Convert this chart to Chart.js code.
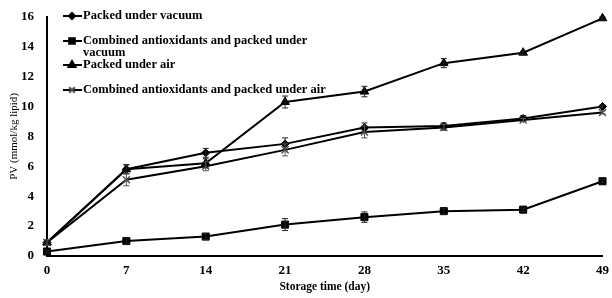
<!DOCTYPE html>
<html>
<head>
<meta charset="utf-8">
<script src="https://cdn.jsdelivr.net/npm/chart.js@4.4.0/dist/chart.umd.min.js"></script>
<style>
  html, body { margin: 0; padding: 0; background: #fff; }
  #wrap { width: 612px; height: 298px; position: relative; }
</style>
</head>
<body>
<div id="wrap"><canvas id="grafica" width="612" height="298"></canvas></div>
<script>
const dias = [0, 7, 14, 21, 28, 35, 42, 49];
const etiquetas = [
  'Packed under vacuum',
  ['Combined antioxidants and packed under', 'vacuum'],
  'Packed under air',
  'Combined antioxidants and packed under air'
];
const vacio = [0.9, 5.8, 6.9, 7.5, 8.6, 8.7, 9.2, 10.0];
const vacioAntiox = [0.3, 1.0, 1.3, 2.1, 2.6, 3.0, 3.1, 5.0];
const aire = [0.9, 5.8, 6.2, 10.3, 11.0, 12.9, 13.6, 15.9];
const aireAntiox = [0.9, 5.1, 6.0, 7.1, 8.3, 8.6, 9.1, 9.6];

const errVacio = [0.1, 0.3, 0.3, 0.4, 0.3, 0.2, 0.2, 0.1];
const errVacioAntiox = [0.1, 0.2, 0.2, 0.4, 0.35, 0.2, 0.1, 0.1];
const errAire = [0.1, 0.3, 0.3, 0.4, 0.35, 0.3, 0.1, 0.1];
const errAireAntiox = [0.2, 0.4, 0.3, 0.4, 0.4, 0.2, 0.1, 0.1];

const fuente = '"Liberation Serif", "Times New Roman", serif';

function serie(label, valores, errores, estilo, radio, color) {
  return {
    label: Array.isArray(label) ? label.join(' ') : label,
    lineas: Array.isArray(label) ? label : [label],
    data: dias.map((d, i) => ({ x: d, y: valores[i] })),
    errores: errores,
    borderColor: '#000',
    backgroundColor: color,
    pointBorderColor: color,
    pointBackgroundColor: color,
    borderWidth: 2,
    pointStyle: estilo,
    pointRadius: radio,
    pointBorderWidth: estilo === 'crossRot' ? 1.5 : 1,
    showLine: true,
    fill: false,
    clip: false,
    tension: 0
  };
}

const datasets = [
  serie(etiquetas[0], vacio, errVacio, 'rectRot', 4, '#000'),
  serie(etiquetas[1], vacioAntiox, errVacioAntiox, 'rect', 5, '#000'),
  serie(etiquetas[2], aire, errAire, 'triangle', 5, '#000'),
  serie(etiquetas[3], aireAntiox, errAireAntiox, 'crossRot', 5, '#555')
];

// barras de error
const barrasError = {
  id: 'barrasError',
  afterDatasetsDraw(chart) {
    const ctx = chart.ctx;
    const xs = chart.scales.x, ys = chart.scales.y;
    ctx.save();
    chart.data.datasets.forEach(ds => {
      ctx.strokeStyle = ds.pointBorderColor === '#000' ? '#222' : '#555';
      ctx.lineWidth = 1;
      ds.data.forEach((p, i) => {
        const e = ds.errores[i];
        const px = xs.getPixelForValue(p.x);
        const y1 = ys.getPixelForValue(p.y + e);
        const y2 = ys.getPixelForValue(p.y - e);
        ctx.beginPath();
        ctx.moveTo(px, y1); ctx.lineTo(px, y2);
        ctx.moveTo(px - 3, y1); ctx.lineTo(px + 3, y1);
        ctx.moveTo(px - 3, y2); ctx.lineTo(px + 3, y2);
        ctx.stroke();
      });
    });
    ctx.restore();
  }
};

// leyenda dentro del area
const leyenda = {
  id: 'leyenda',
  afterDraw(chart) {
    const ctx = chart.ctx;
    const filas = [16, 41, 65, 90];
    ctx.save();
    ctx.font = 'bold 12.5px ' + fuente;
    ctx.textBaseline = 'middle';
    chart.data.datasets.forEach((ds, i) => {
      const y = filas[i];
      ctx.strokeStyle = '#000';
      ctx.lineWidth = 2;
      ctx.beginPath();
      ctx.moveTo(63, y); ctx.lineTo(82, y);
      ctx.stroke();
      ctx.strokeStyle = ds.pointBorderColor;
      ctx.fillStyle = ds.pointBackgroundColor;
      Chart.helpers.drawPoint(ctx, {
        pointStyle: ds.pointStyle,
        radius: ds.pointRadius - 1,
        borderWidth: ds.pointBorderWidth
      }, 72, y);
      ctx.fillStyle = '#000';
      ds.lineas.forEach((t, j) => ctx.fillText(t, 83, y + j * 12));
    });
    ctx.restore();
  }
};

new Chart(document.getElementById('grafica').getContext('2d'), {
  type: 'scatter',
  data: { datasets },
  plugins: [barrasError, leyenda],
  options: {
    responsive: false,
    animation: false,
    layout: { padding: { top: 16, right: 6, left: 8, bottom: 0 } },
    plugins: { legend: { display: false }, tooltip: { enabled: false } },
    scales: {
      x: {
        type: 'linear', min: 0, max: 49,
        afterFit(s) { s.height = 42; },
        afterBuildTicks(s) { s.ticks = dias.map(v => ({ value: v })); },
        grid: { display: false, drawTicks: true, tickLength: 4, tickColor: '#000' },
        border: { color: '#000', width: 2 },
        ticks: { color: '#000', font: { family: fuente, size: 13, weight: 'bold' }, padding: 3 },
        title: { display: true, text: 'Storage time (day)', color: '#000',
          font: { family: fuente, size: 11.5, weight: 'bold' }, padding: { top: 8 } }
      },
      y: {
        min: 0, max: 16,
        afterFit(s) { s.width = 39; },
        ticks: { stepSize: 2, color: '#000', font: { family: fuente, size: 13, weight: 'bold' }, padding: 9 },
        grid: { display: false, drawTicks: true, tickLength: 4, tickColor: '#000' },
        border: { color: '#000', width: 2 },
        title: { display: true, text: 'PV (mmol/kg lipid)', color: '#000',
          font: { family: fuente, size: 11 }, padding: 0 }
      }
    }
  }
});
</script>
</body>
</html>
